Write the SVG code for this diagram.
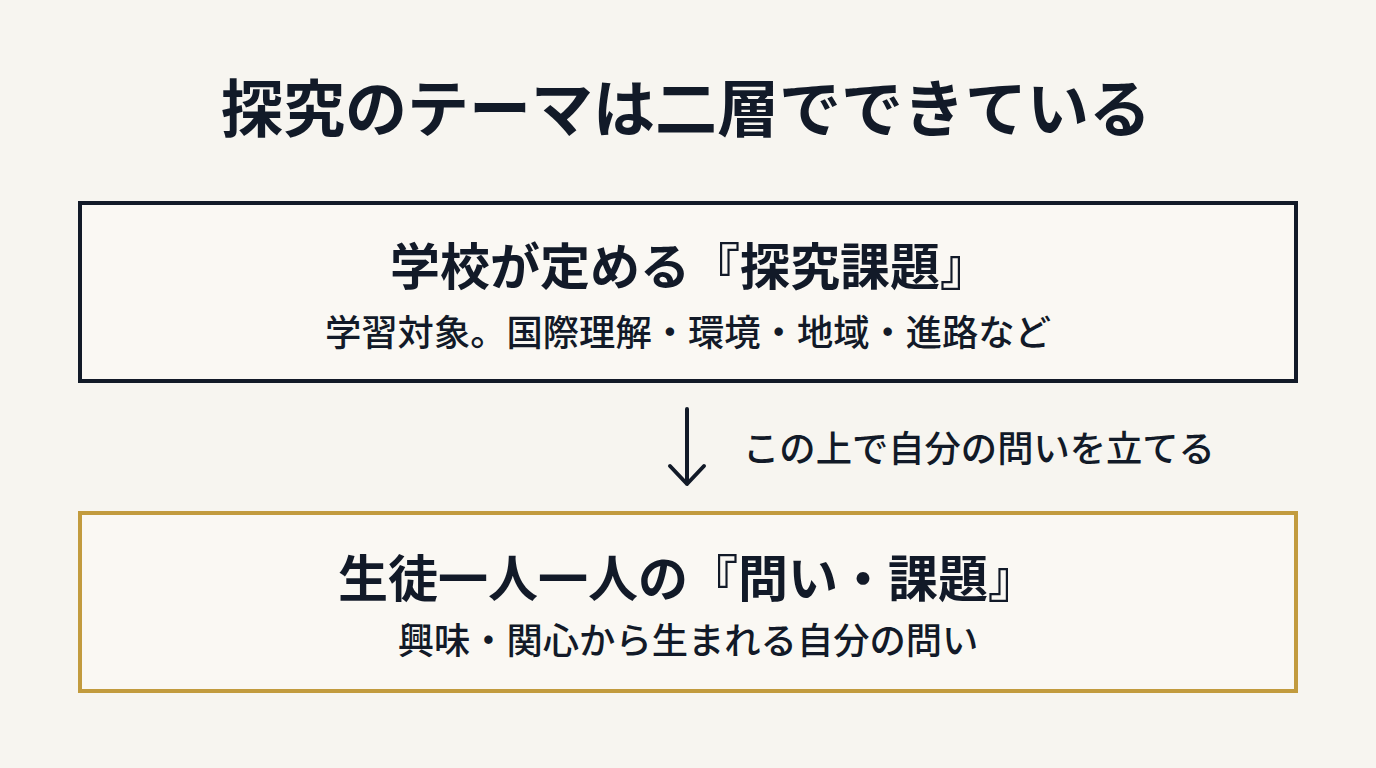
<svg xmlns="http://www.w3.org/2000/svg" width="1376" height="768" viewBox="0 0 1376 768">
<defs>
<style>
.t{font-family:"Noto Sans CJK JP","Noto Sans CJK SC",sans-serif;fill:#121a28;text-anchor:middle}
.h1{font-size:62px;font-weight:700}
.h2{font-size:50px;font-weight:700}
.s{font-size:36.3px;font-weight:500}
.conn{stroke:#121a28;stroke-width:4;fill:none;stroke-linecap:round;stroke-linejoin:round}
</style>
</defs>
<rect width="1376" height="768" fill="#f7f5f0"/>
<g id="title"><text class="t h1" x="686" y="132">探究のテーマは二層でできている</text></g>
<g id="node-school">
<rect x="80" y="203" width="1216" height="178" fill="#faf8f3" stroke="#121a28" stroke-width="4"/>
<text class="t h2" x="690" y="285">学校が定める『探究課題』</text>
<text class="t s" x="688" y="346">学習対象。国際理解・環境・地域・進路など</text>
</g>
<g id="connectors">
<path class="conn" d="M687 409 V484 M670 466 L687 484 L704 466"/>
<text class="t s" x="979" y="462">この上で自分の問いを立てる</text>
</g>
<g id="node-student">
<rect x="80" y="513" width="1216" height="178" fill="#faf8f3" stroke="#c29b3e" stroke-width="4"/>
<text class="t h2" x="688" y="597">生徒一人一人の『問い・課題』</text>
<text class="t s" x="688" y="654">興味・関心から生まれる自分の問い</text>
</g>
</svg>
